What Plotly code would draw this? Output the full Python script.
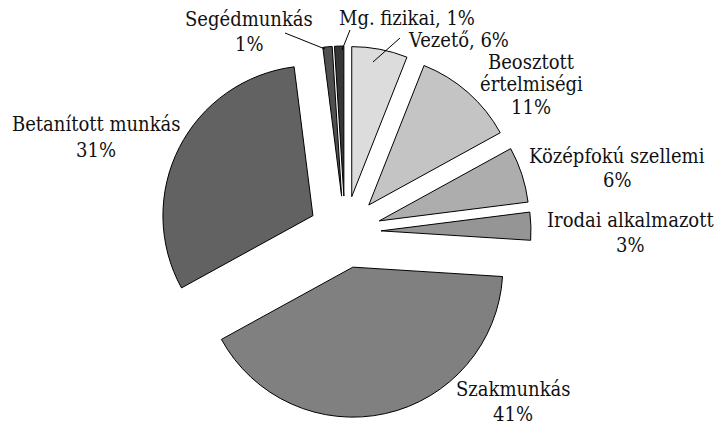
import plotly.graph_objects as go

categories = ["Vezető", "Beosztott értelmiségi", "Középfokú szellemi", "Irodai alkalmazott",
              "Szakmunkás", "Betanított munkás", "Segédmunkás", "Mg. fizikai"]
values = [6, 11, 6, 3, 41, 31, 1, 1]
label_lines = [["Vezető, 6%"], ["Beosztott", "értelmiségi", "11%"], ["Középfokú szellemi", "6%"],
               ["Irodai alkalmazott", "3%"], ["Szakmunkás", "41%"], ["Betanított munkás", "31%"],
               ["Segédmunkás", "1%"], ["Mg. fizikai, 1%"]]
colors = ["#dcdcdc", "#c4c4c4", "#adadad", "#959595", "#808080", "#626262", "#505050", "#363636"]

W, H = 720, 426

def px(x):
    return x / W

def py(y):
    return 1 - y / H

fig = go.Figure(go.Pie(
    labels=categories, values=values, sort=False, direction="clockwise", rotation=0,
    pull=0.24, textinfo="none", hoverinfo="label+percent",
    marker=dict(colors=colors, line=dict(color="black", width=1)),
    domain=dict(x=[px(159), px(531)], y=[py(418), py(46)]),
    showlegend=False,
))

# line centres (x, [y per line]) in pixels
label_pos = [(459, [40]), (531, [62, 84, 107]), (617, [156, 180]), (630, [220, 245]),
             (513, [389, 414]), (96, [124, 150]), (249, [19, 44]), (407, [18])]
for lines, (x, ys) in zip(label_lines, label_pos):
    for t, y in zip(lines, ys):
        fig.add_annotation(x=px(x), y=py(y), xref="paper", yref="paper", text=t, showarrow=False,
                           font=dict(family="DejaVu Serif Condensed", size=20, color="#111"),
                           xanchor="center", yanchor="middle")

leaders = [((285, 33), (325, 49)), ((350, 30), (342, 50)), ((400, 38), (373, 62))]
for (x0, y0), (x1, y1) in leaders:
    fig.add_shape(type="line", xref="paper", yref="paper", x0=px(x0), y0=py(y0), x1=px(x1), y1=py(y1),
                  line=dict(color="black", width=1))

fig.update_layout(width=W, height=H, margin=dict(l=0, r=0, t=0, b=0),
                  paper_bgcolor="white", plot_bgcolor="white")
fig.write_html("out.html", post_script="document.body.style.margin='0';",
               config={"displayModeBar": False})
